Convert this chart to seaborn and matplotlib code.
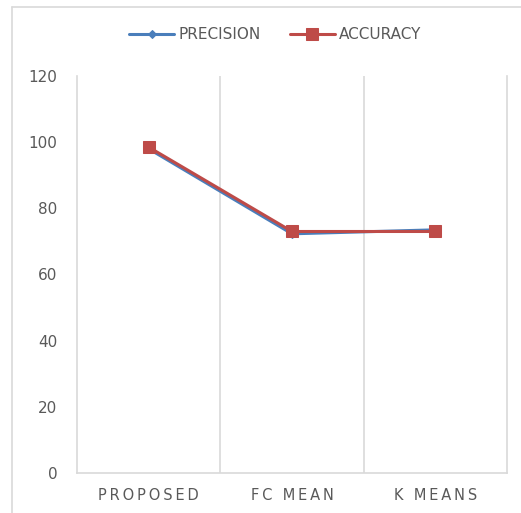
import matplotlib
matplotlib.use("Agg")
import matplotlib.pyplot as plt
from matplotlib.lines import Line2D
import pandas as pd
import seaborn as sns

categories = ["PROPOSED", "FC MEAN", "K MEANS"]
precision = [98.0, 72.3, 73.5]
accuracy = [98.5, 73.0, 73.0]
y_ticks = [0, 20, 40, 60, 80, 100, 120]

BLUE = "#4A7EBB"
RED = "#BE4B48"
GRID = "#D9D9D9"
TEXT = "#595959"

sns.set_theme(style="white")
plt.rcParams["font.family"] = ["DejaVu Sans"]

fig = plt.figure(figsize=(5.21, 5.13), dpi=100)
ax = fig.add_axes([77 / 521, 1 - 473 / 513, (507 - 77) / 521, (473 - 76) / 513])

df = pd.DataFrame({"x": list(range(len(categories))),
                   "PRECISION": precision, "ACCURACY": accuracy})

sns.lineplot(data=df, x="x", y="PRECISION", ax=ax, color=BLUE, lw=2.2,
             marker="D", markersize=4.5, markeredgecolor=BLUE,
             label="PRECISION")
sns.lineplot(data=df, x="x", y="ACCURACY", ax=ax, color=RED, lw=2.2,
             marker="s", markersize=8.5, markeredgecolor=RED,
             label="ACCURACY")

ax.set_xlim(-0.5, len(categories) - 0.5)
ax.set_ylim(0, 120)
ax.set_yticks(y_ticks)
ax.set_yticklabels([str(t) for t in y_ticks], color=TEXT, fontsize=11)
ax.set_xticks(range(len(categories)))
ax.set_xticklabels(["\u2009".join(c) for c in categories], color=TEXT, fontsize=10.5)
ax.tick_params(axis="both", length=0)
ax.tick_params(axis="y", pad=14)
ax.tick_params(axis="x", pad=11)
ax.set_xlabel("")
ax.set_ylabel("")

# vertical separators between categories
for b in [0.5, 1.5]:
    ax.axvline(b, color=GRID, lw=1.2, zorder=0)

for side in ["left", "bottom", "right"]:
    ax.spines[side].set_visible(True)
    ax.spines[side].set_color(GRID)
    ax.spines[side].set_linewidth(1.2)
ax.spines["top"].set_visible(False)

leg = ax.legend(loc="center", bbox_to_anchor=(0.528, 1 - 35 / 513),
                bbox_transform=fig.transFigure, ncol=2, frameon=False,
                fontsize=11, handlelength=3.0, columnspacing=1.9,
                handletextpad=0.25)
for t in leg.get_texts():
    t.set_color(TEXT)

# outer chart frame (top and left edges)
fx, fy = 12 / 521, 1 - 7 / 513
fig.add_artist(Line2D([fx, 1.0], [fy, fy], transform=fig.transFigure,
                      color=GRID, lw=1.2))
fig.add_artist(Line2D([fx, fx], [0.0, fy], transform=fig.transFigure,
                      color=GRID, lw=1.2))

fig.savefig("out.png", dpi=100)
